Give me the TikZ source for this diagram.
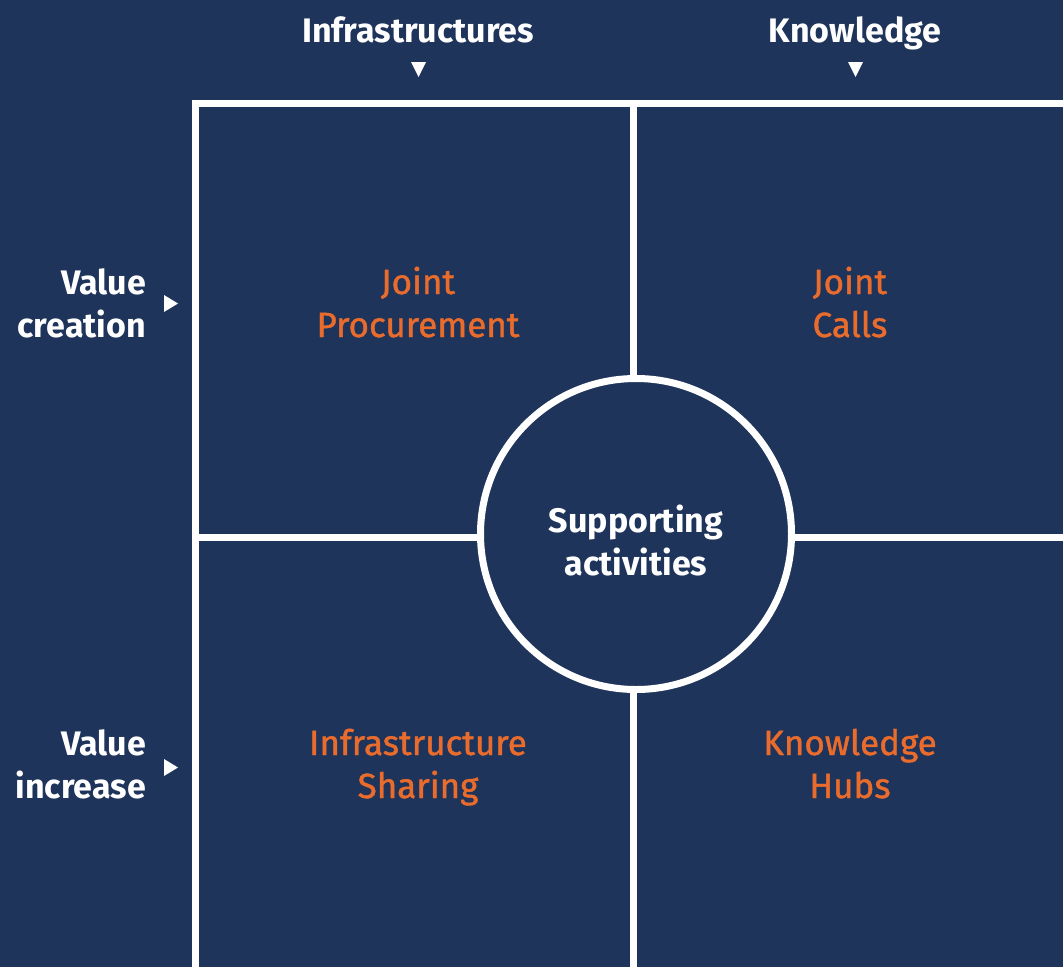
\documentclass[tikz,border=0pt]{standalone}
\usepackage{fontspec}
\setmainfont{Fira Sans}
\newfontfamily\orgfont[FakeBold=1.2]{Fira Sans}
\definecolor{navy}{RGB}{31,52,91}
\definecolor{orng}{RGB}{234,108,44}
\begin{document}
\begin{tikzpicture}[x=1pt,y=-1pt,
  grid/.style={draw=white,line width=7pt},
  head/.style={text=white,font=\fontsize{34}{43}\selectfont\bfseries,inner sep=0pt,align=center,anchor=base},
  side/.style={text=white,font=\fontsize{34}{43}\selectfont\bfseries,inner sep=0pt,align=right,anchor=base east},
  cell/.style={text=orng,font=\fontsize{35}{43}\orgfont,inner sep=0pt,align=center,anchor=base},
  tri/.style={fill=white}]
\fill[navy] (0,0) rectangle (1063,967);
\useasboundingbox (0,0) rectangle (1063,967);
% grid
\draw[grid] (192,103) -- (1063,103);
\draw[grid] (195,100) -- (195,967);
\draw[grid] (633,103) -- (633,967);
\draw[grid] (195,537) -- (1063,537);
\node[circle,draw=white,fill=navy,line width=7pt,minimum size=311pt,inner sep=0pt] (hub) at (636,534) {};
% headings
\node[head] (infra) at (418,42) {Infrastructures};
\node[head] (know) at (855,42) {Knowledge};
\fill[tri] (411,62) -- (426,62) -- (418.5,77) -- cycle;
\fill[tri] (848,62) -- (863,62) -- (855.5,77) -- cycle;
\node[side] (vc) at (146,337) {Value\\creation};
\node[side] (vi) at (146,798) {Value\\increase};
\fill[tri] (164,295) -- (178,303.5) -- (164,312) -- cycle;
\fill[tri] (164,759) -- (178,767.5) -- (164,776) -- cycle;
% cells
\node[cell] (jp) at (418,337) {Joint\\Procurement};
\node[cell] (jc) at (850,337) {Joint\\Calls};
\node[cell] (is) at (418,798) {Infrastructure\\Sharing};
\node[cell] (kh) at (850,798) {Knowledge\\Hubs};
\node[head] (sa) at (636,575) {Supporting\\activities};
\end{tikzpicture}
\end{document}
